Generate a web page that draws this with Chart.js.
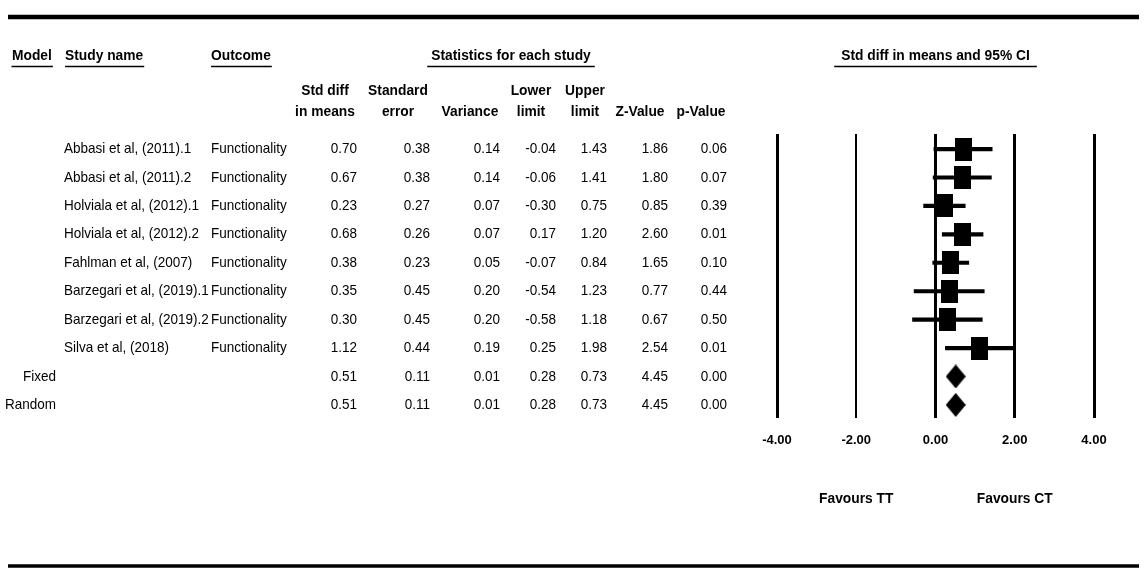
<!DOCTYPE html>
<html>
<head>
<meta charset="utf-8">
<script src="https://cdn.jsdelivr.net/npm/chart.js@4/dist/chart.umd.min.js"></script>
<style>
html,body{margin:0;padding:0;background:#fff;}
canvas{display:block;background:#fff;}
</style>
</head>
<body>
<canvas id="c" width="1148" height="574"></canvas>
<script>
// ---- data ----
const models   = ["", "", "", "", "", "", "", "", "Fixed", "Random"];
const studies  = ["Abbasi et al, (2011).1","Abbasi et al, (2011).2","Holviala et al, (2012).1","Holviala et al, (2012).2","Fahlman et al, (2007)","Barzegari et al, (2019).1","Barzegari et al, (2019).2","Silva et al, (2018)","",""];
const outcomes = ["Functionality","Functionality","Functionality","Functionality","Functionality","Functionality","Functionality","Functionality","",""];
const smd      = [0.70, 0.67, 0.23, 0.68, 0.38, 0.35, 0.30, 1.12, 0.51, 0.51];
const stdErr   = [0.38, 0.38, 0.27, 0.26, 0.23, 0.45, 0.45, 0.44, 0.11, 0.11];
const variance = [0.14, 0.14, 0.07, 0.07, 0.05, 0.20, 0.20, 0.19, 0.01, 0.01];
const lower    = [-0.04, -0.06, -0.30, 0.17, -0.07, -0.54, -0.58, 0.25, 0.28, 0.28];
const upper    = [1.43, 1.41, 0.75, 1.20, 0.84, 1.23, 1.18, 1.98, 0.73, 0.73];
const zValue   = [1.86, 1.80, 0.85, 2.60, 1.65, 0.77, 0.67, 2.54, 4.45, 4.45];
const pValue   = [0.06, 0.07, 0.39, 0.01, 0.10, 0.44, 0.50, 0.01, 0.00, 0.00];
const isSummary = [false,false,false,false,false,false,false,false,true,true];
const xTicks   = [-4, -2, 0, 2, 4];
const favours  = [{v:-2, label:"Favours TT"}, {v:2, label:"Favours CT"}];

// ---- marker images ----
function makeSquare(w,h){const c=document.createElement('canvas');c.width=w;c.height=h;const g=c.getContext('2d');g.fillStyle='#000';g.fillRect(0,0,w,h);return c;}
function makeDiamond(w,h){const c=document.createElement('canvas');c.width=w;c.height=h;const g=c.getContext('2d');g.fillStyle='#000';g.beginPath();g.moveTo(w/2,0);g.lineTo(w,h/2);g.lineTo(w/2,h);g.lineTo(0,h/2);g.closePath();g.fill();return c;}
const sq = makeSquare(17,23);
const dm = makeDiamond(20,24);

const studyIdx = smd.map((v,i)=>i).filter(i=>!isSummary[i]);
const sumIdx = smd.map((v,i)=>i).filter(i=>isSummary[i]);

const FONT = '"Liberation Sans", Arial, sans-serif';

const tablePlugin = {
  id:'table',
  afterDraw(chart){
    const ctx = chart.ctx, ys = chart.scales.y, xs = chart.scales.x;
    function txt(s,x,y,align,bold,sx){
      ctx.save();
      ctx.font=(bold?'bold ':'')+'15px '+FONT;
      ctx.textBaseline='middle';ctx.textAlign='left';ctx.fillStyle='#000';
      const w=ctx.measureText(s).width*sx;
      const left = align==='left'?x:(align==='right'?x-w:x-w/2);
      ctx.translate(left,y);ctx.scale(sx,1);ctx.fillText(s,0,0);
      ctx.restore();
      return [left,left+w];
    }
    function hline(x1,x2,y,w){ctx.save();ctx.strokeStyle='#000';ctx.lineWidth=w;ctx.beginPath();ctx.moveTo(x1,y);ctx.lineTo(x2,y);ctx.stroke();ctx.restore();}

    // frame rules
    hline(8,1139,17,4.5);
    hline(8,1139,566,3.5);

    // header row 1 with underlines
    const hy=55.5, uy=66.5;
    let r;
    r=txt("Model",12,hy,'left',true,0.92); hline(r[0]-0.5,r[1]+1,uy,1.5);
    r=txt("Study name",65,hy,'left',true,0.92); hline(r[0],r[1]+1,uy,1.5);
    r=txt("Outcome",211,hy,'left',true,0.92); hline(r[0],r[1]+1,uy,1.5);
    r=txt("Statistics for each study",511,hy,'center',true,0.92); hline(r[0]-4,r[1]+4,uy,1.5);
    r=txt("Std diff in means and 95% CI",xs.getPixelForValue(0),hy,'center',true,0.92); hline(r[0]-7,r[1]+7,uy,1.5);

    // header row 2
    const cols=[
      {c:325,r:357,h:["Std diff","in means"]},
      {c:398,r:430,h:["Standard","error"]},
      {c:470,r:500,h:["Variance"]},
      {c:531,r:556,h:["Lower","limit"]},
      {c:585,r:607,h:["Upper","limit"]},
      {c:640,r:668,h:["Z-Value"]},
      {c:701,r:727,h:["p-Value"]}
    ];
    cols.forEach(col=>{
      if(col.h.length===2){txt(col.h[0],col.c,91,'center',true,0.92);txt(col.h[1],col.c,112,'center',true,0.92);}
      else txt(col.h[0],col.c,112,'center',true,0.92);
    });

    const arrays=[smd,stdErr,variance,lower,upper,zValue,pValue];
    for(let i=0;i<smd.length;i++){
      const y=ys.getPixelForValue(i);
      if(models[i]) txt(models[i],56,y,'right',false,0.9);
      if(studies[i]) txt(studies[i],64,y,'left',false,0.9);
      if(outcomes[i]) txt(outcomes[i],211,y,'left',false,0.9);
      arrays.forEach((a,k)=>txt(a[i].toFixed(2),cols[k].r,y,'right',false,0.9));
    }

    favours.forEach(f=>txt(f.label,xs.getPixelForValue(f.v),499,'center',true,0.92));
  }
};

new Chart(document.getElementById('c'),{
  type:'scatter',
  data:{
    datasets:[
      {
        type:'bar', indexAxis:'y',
        data: studyIdx.map(i=>({x:[lower[i],upper[i]], y:i})),
        backgroundColor:'#000', borderWidth:0, barThickness:3.5
      },
      {
        data: studyIdx.map(i=>({x:smd[i], y:i})),
        pointStyle: sq, pointRadius:10, backgroundColor:'#000', borderColor:'#000'
      },
      {
        data: sumIdx.map(i=>({x:smd[i], y:i})),
        pointStyle: dm, pointRadius:10, backgroundColor:'#000', borderColor:'#000'
      }
    ]
  },
  options:{
    responsive:false, animation:false,
    layout:{padding:{left:777,right:54,top:134,bottom:0}},
    plugins:{legend:{display:false},tooltip:{enabled:false}},
    scales:{
      x:{
        type:'linear', min:-4, max:4, offset:false,
        afterBuildTicks: s=>{ s.ticks = xTicks.map(v=>({value:v})); },
        afterFit: s=>{ s.height = 156; },
        grid:{color:'#000', lineWidth: c=> (c.tick && c.tick.value===-2)?2:3, drawTicks:false, drawOnChartArea:true, offset:false},
        border:{display:false},
        ticks:{padding:15, color:'#000', font:{family:'Liberation Sans', size:13, weight:'bold'}, callback:v=>Number(v).toFixed(2), maxRotation:0, autoSkip:false}
      },
      y:{
        type:'linear', reverse:true, min:-0.53, max:9.46, display:false, offset:false,
        grid:{display:false, offset:false}
      }
    }
  },
  plugins:[tablePlugin]
});
</script>
</body>
</html>
